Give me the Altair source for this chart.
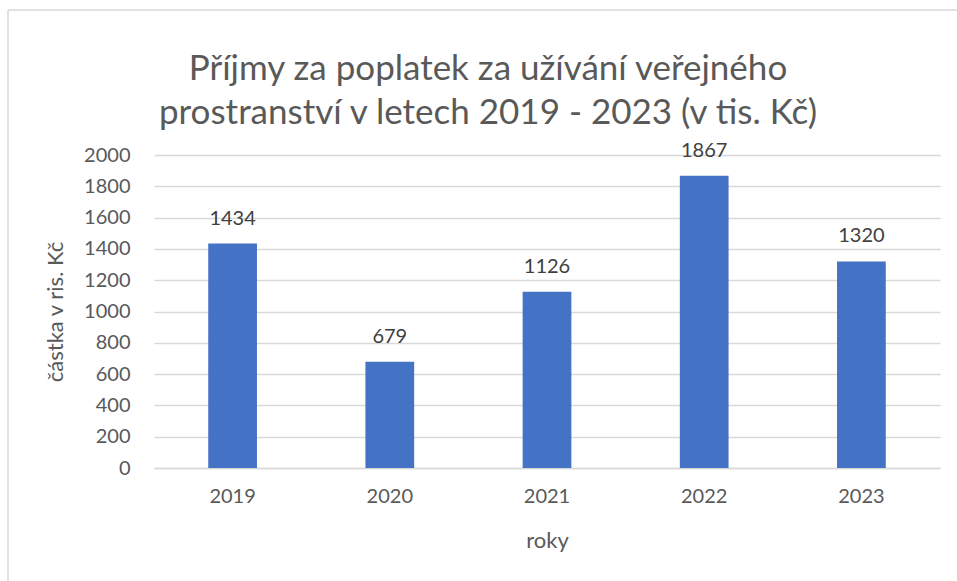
import altair as alt
import pandas as pd

years = ["2019", "2020", "2021", "2022", "2023"]
values = [1434, 679, 1126, 1867, 1320]
y_ticks = [0, 200, 400, 600, 800, 1000, 1200, 1400, 1600, 1800, 2000]
title_lines = ["Příjmy za poplatek za užívání veřejného",
               "prostranství v letech 2019 - 2023 (v tis. Kč)"]
x_title = "roky"
y_title = "částka v ris. Kč"

df = pd.DataFrame({"rok": years, "castka": values})

FONT = "Lato"
TXT = "#595959"

x_enc = alt.X("rok:N", sort=years, title=x_title,
              scale=alt.Scale(paddingInner=0.69, paddingOuter=0.345),
              axis=alt.Axis(labelAngle=0, ticks=False, labelPadding=18,
                            titlePadding=24, domainColor="#D9D9D9", domainWidth=1.5))
y_enc = alt.Y("castka:Q", title=y_title,
              scale=alt.Scale(domain=[0, 2000]),
              axis=alt.Axis(values=y_ticks, format="d", labelOverlap=False,
                            ticks=False, domain=False, labelPadding=24,
                            gridColor="#D9D9D9", gridWidth=1.5, titlePadding=16))

base = alt.Chart(df)
bars = base.mark_bar(color="#4472C4").encode(x=x_enc, y=y_enc)
labels = base.mark_text(baseline="alphabetic", dy=-19, fontSize=20, font=FONT,
                        color="#404040").encode(x=x_enc, y=y_enc, text="castka:Q")

border_data = alt.Data(values=[{"k": 1}])
border_v = alt.Chart(border_data).mark_rule(color="#D9D9D9", strokeWidth=1.5).encode(
    x=alt.value(-146), y=alt.value(-145), y2=alt.value(430))
border_h = alt.Chart(border_data).mark_rule(color="#D9D9D9", strokeWidth=1.5).encode(
    x=alt.value(-146), x2=alt.value(810), y=alt.value(-145))

chart = alt.layer(bars, labels, border_v, border_h).properties(
    width=786, height=313,
    title=alt.TitleParams(text=title_lines, fontSize=35, font=FONT, color=TXT,
                          fontWeight="normal", anchor="middle", dx=-59,
                          lineHeight=44, offset=-122),
    autosize=alt.AutoSizeParams(type="none"),
    padding={"left": 154, "top": 155, "right": 17, "bottom": 113},
).configure(background="white").configure_view(stroke=None).configure_axis(
    labelFont=FONT, titleFont=FONT, labelFontSize=20, titleFontSize=22,
    labelColor=TXT, titleColor=TXT, titleFontWeight="normal", labelFontWeight="normal"
)

chart.save("out.html", embed_options={"renderer": "svg", "actions": False})
